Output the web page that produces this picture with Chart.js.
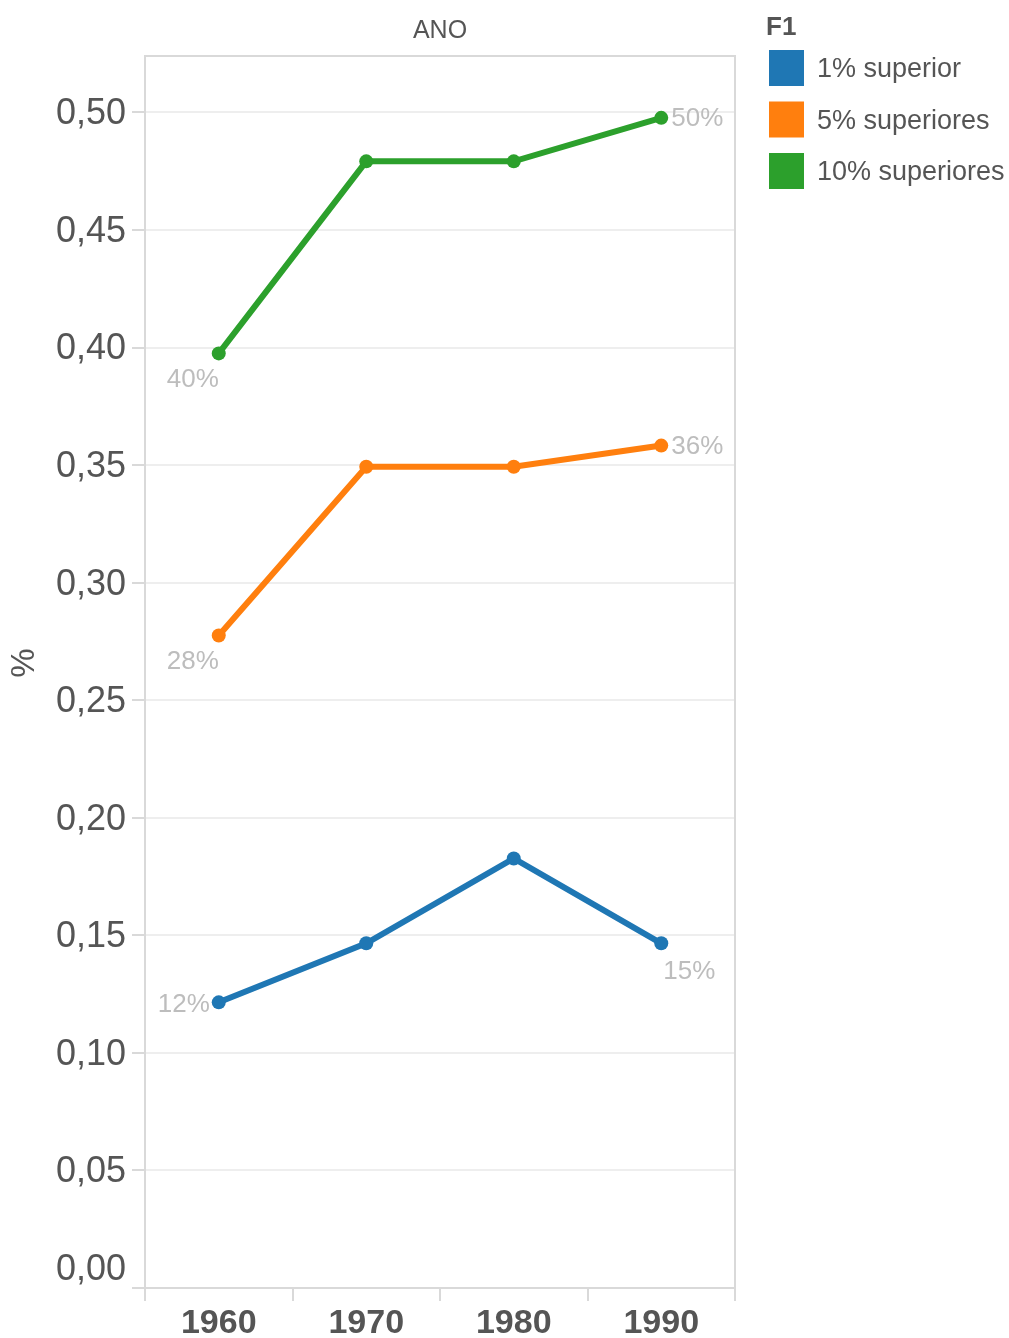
<!DOCTYPE html>
<html>
<head>
<meta charset="utf-8">
<script src="https://cdn.jsdelivr.net/npm/chart.js@4.4.1/dist/chart.umd.min.js"></script>
<style>
  html, body { margin: 0; padding: 0; background: #fff; }
</style>
</head>
<body>
<canvas id="chart" width="1009" height="1338"></canvas>
<script>
// DATA
const years = ["1960", "1970", "1980", "1990"];
const seriesNames = ["1% superior", "5% superiores", "10% superiores"];
const top1 = [0.1215, 0.1466, 0.1827, 0.1466];
const top5 = [0.2775, 0.3493, 0.3493, 0.3583];
const top10 = [0.3975, 0.4792, 0.4792, 0.4977];
const yTicks = [0, 0.05, 0.1, 0.15, 0.2, 0.25, 0.3, 0.35, 0.4, 0.45, 0.5];
const yTickLabels = ["0,00", "0,05", "0,10", "0,15", "0,20", "0,25", "0,30", "0,35", "0,40", "0,45", "0,50"];

const colors = ["#1f77b4", "#ff7f0e", "#2ca02c"];
const FONT = 'Arial, "Liberation Sans", Helvetica, sans-serif';
const TEXT = "#555555";

// where the first / last value label sits next to its point, per series
const labelSpots = [
  ["left", "below-right"],
  ["below-left", "right"],
  ["below-left", "right"],
];

function makeSet(label, data, color) {
  return {
    label: label,
    data: data,
    borderColor: color,
    backgroundColor: color,
    borderWidth: 6,
    pointRadius: 7,
    pointBorderWidth: 0,
    pointBackgroundColor: color,
    tension: 0,
    fill: false,
  };
}

// texts, legend, frame and value labels
const decor = {
  id: "decor",
  beforeDatasetsDraw(chart) {
    const { ctx, chartArea: a } = chart;
    ctx.save();
    ctx.strokeStyle = "#d9d9d9";
    ctx.lineWidth = 2;
    ctx.strokeRect(a.left, a.top, a.right - a.left, a.bottom - a.top);
    ctx.restore();
  },
  afterDraw(chart) {
    const { ctx, chartArea: a, scales } = chart;
    ctx.save();

    // y tick labels, the bottom one kept inside the axis
    ctx.fillStyle = TEXT;
    ctx.font = "36px " + FONT;
    ctx.textAlign = "right";
    yTicks.forEach((v, i) => {
      const y = scales.y.getPixelForValue(v);
      ctx.textBaseline = i === 0 ? "bottom" : "middle";
      ctx.fillText(yTickLabels[i], 126, i === 0 ? y : y + 2);
    });

    // axis titles
    ctx.font = "25px " + FONT;
    ctx.textAlign = "center";
    ctx.textBaseline = "middle";
    ctx.fillText("ANO", (a.left + a.right) / 2, 31);

    ctx.save();
    ctx.translate(25, 663);
    ctx.rotate(-Math.PI / 2);
    ctx.font = "33px " + FONT;
    ctx.fillText("%", 0, 0);
    ctx.restore();

    // legend
    ctx.textAlign = "left";
    ctx.font = "bold 26px " + FONT;
    ctx.fillText("F1", 766, 28);
    ctx.font = "27px " + FONT;
    chart.data.datasets.forEach((ds, i) => {
      const cy = 68 + i * 51.5;
      ctx.fillStyle = ds.borderColor;
      ctx.fillRect(769, cy - 18, 35, 36);
      ctx.fillStyle = TEXT;
      ctx.fillText(ds.label, 817, cy + 2);
    });

    // value labels at both ends of each line
    ctx.fillStyle = "#bdbdbd";
    ctx.font = "26px " + FONT;
    chart.data.datasets.forEach((ds, i) => {
      const pts = chart.getDatasetMeta(i).data;
      [0, pts.length - 1].forEach((j, k) => {
        const p = pts[j];
        const txt = Math.round(ds.data[j] * 100) + "%";
        const spot = labelSpots[i][k];
        if (spot === "left") {
          ctx.textAlign = "right"; ctx.textBaseline = "middle";
          ctx.fillText(txt, p.x - 9, p.y + 2);
        } else if (spot === "right") {
          ctx.textAlign = "left"; ctx.textBaseline = "middle";
          ctx.fillText(txt, p.x + 10, p.y + 1);
        } else if (spot === "below-left") {
          ctx.textAlign = "right"; ctx.textBaseline = "top";
          ctx.fillText(txt, p.x, p.y + 13);
        } else {
          ctx.textAlign = "left"; ctx.textBaseline = "top";
          ctx.fillText(txt, p.x + 2, p.y + 16);
        }
      });
    });

    ctx.restore();
  },
};

new Chart(document.getElementById("chart"), {
  type: "line",
  data: {
    labels: years,
    datasets: [
      makeSet(seriesNames[0], top1, colors[0]),
      makeSet(seriesNames[1], top5, colors[1]),
      makeSet(seriesNames[2], top10, colors[2]),
    ],
  },
  options: {
    responsive: false,
    animation: false,
    events: [],
    layout: { padding: { left: 132, right: 274, top: 56, bottom: 0 } },
    plugins: {
      legend: { display: false },
      tooltip: { enabled: false },
    },
    scales: {
      x: {
        offset: true,
        border: { display: false },
        grid: {
          offset: true,
          drawOnChartArea: false,
          drawTicks: true,
          tickLength: 13,
          color: "#d9d9d9",
          lineWidth: 2,
        },
        ticks: {
          color: TEXT,
          padding: 2,
          font: { family: FONT, size: 34, weight: "bold" },
        },
        afterFit(scale) { scale.height = 50; },
      },
      y: {
        min: 0,
        max: 0.524,
        border: { display: false },
        afterBuildTicks(scale) {
          scale.ticks = yTicks.map((v) => ({ value: v }));
        },
        grid: {
          color: "#eeeeee",
          tickColor: "#d9d9d9",
          lineWidth: 2,
          tickLength: 13,
        },
        ticks: { display: false },
        afterFit(scale) { scale.width = 13; },
      },
    },
  },
  plugins: [decor],
});
</script>
</body>
</html>
